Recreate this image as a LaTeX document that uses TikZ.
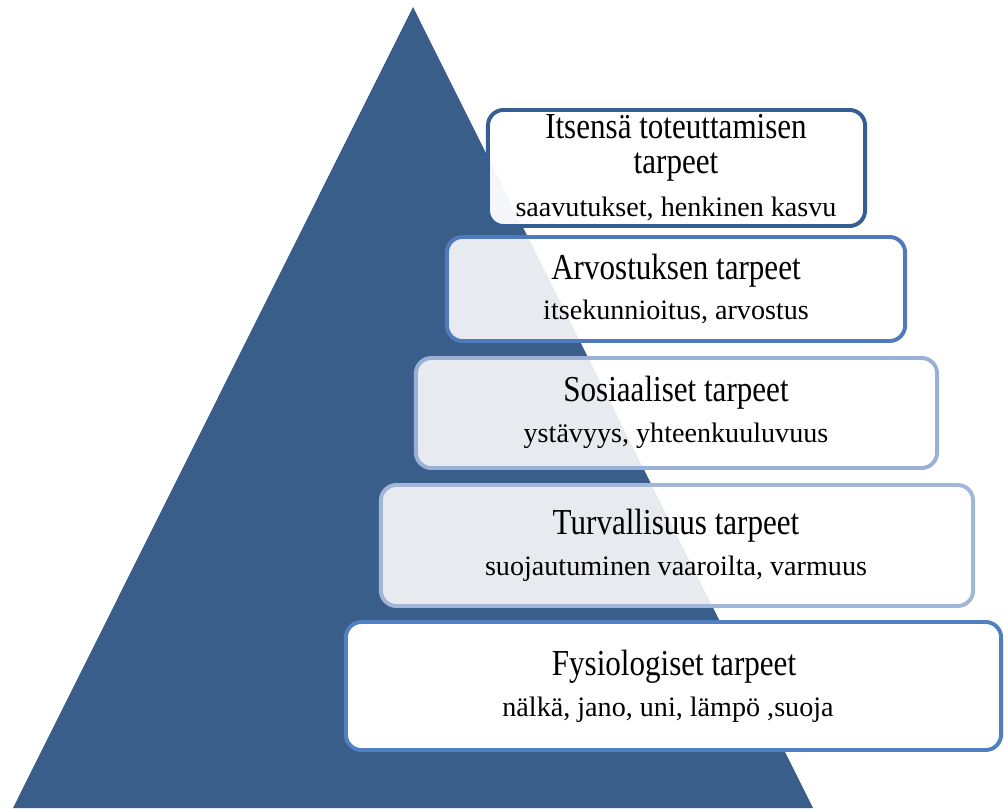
\documentclass[tikz,border=0pt]{standalone}
\usepackage{fontspec}
\setmainfont[FakeStretch=0.85]{Liberation Serif}
\newfontfamily\subfont{Liberation Serif}
\usepackage{tikz}

\definecolor{pyramid}{RGB}{58,94,138}
\definecolor{edgeA}{RGB}{52,94,148}
\definecolor{edgeB}{RGB}{79,122,190}
\definecolor{edgeC}{RGB}{155,176,215}
\definecolor{edgeD}{RGB}{162,182,218}
\definecolor{edgeE}{RGB}{79,128,196}

\begin{document}
\begin{tikzpicture}[x=0.025cm, y=-0.025cm,
	tier/.style = {draw, line width=2.8pt, rounded corners=11pt, fill=white, fill opacity=0.88, inner sep=0pt},
	head/.style = {anchor=base, align=center, font=\fontsize{26}{24.5}\selectfont, inner sep=0pt},
	sub/.style = {anchor=base, font=\subfont\fontsize{20}{24}\selectfont, inner sep=0pt}]
	\useasboundingbox (0,0) rectangle (1004,808);
	% pyramid
	\fill[pyramid] (413,7) -- (813,808) -- (13,808) -- cycle;
	% levels
	\node[tier, draw=edgeE, fill opacity=1, minimum width=16.375cm, minimum height=3.2cm] (t5) at (673.5,686) {};
	\node[tier, draw=edgeD, minimum width=14.8cm, minimum height=3.025cm] (t4) at (677,545.5) {};
	\node[tier, draw=edgeC, minimum width=13.025cm, minimum height=2.75cm] (t3) at (676.5,413) {};
	\node[tier, draw=edgeB, minimum width=11.45cm, minimum height=2.6cm] (t2) at (676,289) {};
	\node[tier, draw=edgeA, fill opacity=0.95, minimum width=9.425cm, minimum height=2.9cm] (t1) at (676.5,168) {};
	% texts
	\node[head] (h1) at (676,173) {Itsensä toteuttamisen\\tarpeet};
	\node[sub] (s1) at (676,216) {saavutukset, henkinen kasvu};
	\node[head] (h2) at (676,279) {Arvostuksen tarpeet};
	\node[sub] (s2) at (676,319) {itsekunnioitus, arvostus};
	\node[head] (h3) at (676,401) {Sosiaaliset tarpeet};
	\node[sub] (s3) at (676,442) {ystävyys, yhteenkuuluvuus};
	\node[head] (h4) at (676,534) {Turvallisuus tarpeet};
	\node[sub] (s4) at (676,575) {suojautuminen vaaroilta, varmuus};
	\node[head] (h5) at (674,675) {Fysiologiset tarpeet};
	\node[sub] (s5) at (668,716) {nälkä, jano, uni, lämpö ,suoja};
\end{tikzpicture}
\end{document}
